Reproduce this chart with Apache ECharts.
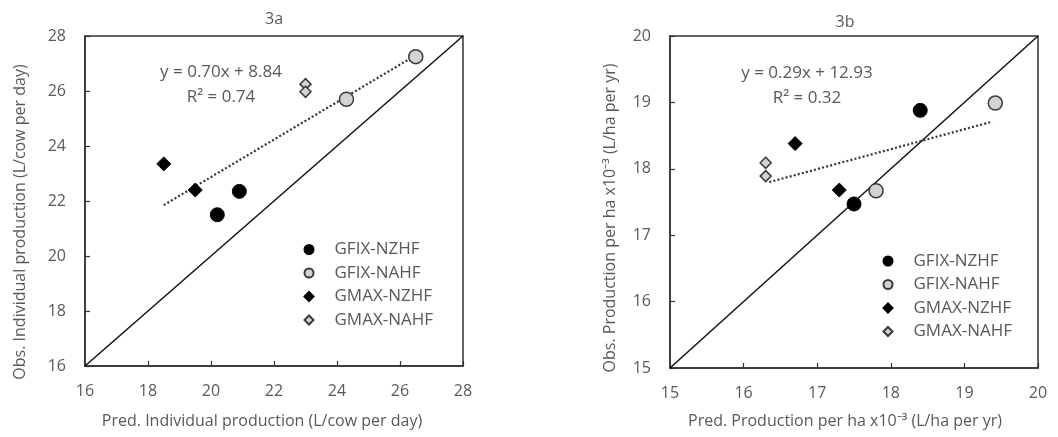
<!DOCTYPE html>
<html><head><meta charset="utf-8">
<script src="https://cdn.jsdelivr.net/npm/echarts@6/dist/echarts.min.js"></script>
<style>html,body{margin:0;padding:0;background:#fff}#c{width:1058px;height:437px}</style>
</head><body><div id="c"></div>
<script>
// ---- data: panel 3a (L/cow per day) ----
const a_GFIX_NZHF = [[20.2, 21.5], [20.9, 22.35]];
const a_GFIX_NAHF = [[24.3, 25.7], [26.5, 27.25]];
const a_GMAX_NZHF = [[18.5, 23.35], [19.5, 22.4]];
const a_GMAX_NAHF = [[23.0, 26.25], [23.0, 25.97]];
const a_trend = [[18.5, 21.85], [26.5, 27.3]];
const a_oneToOne = [[16, 16], [28, 28]];
const a_ticks = [16, 18, 20, 22, 24, 26, 28];
// ---- data: panel 3b (L/ha per yr x10^-3) ----
const b_GFIX_NZHF = [[17.5, 17.47], [18.4, 18.88]];
const b_GFIX_NAHF = [[17.8, 17.67], [19.42, 18.99]];
const b_GMAX_NZHF = [[16.7, 18.38], [17.3, 17.68]];
const b_GMAX_NAHF = [[16.3, 18.09], [16.3, 17.89]];
const b_trend = [[16.35, 17.8], [19.38, 18.71]];
const b_oneToOne = [[15, 15], [20, 20]];
const b_ticks = [15, 16, 17, 18, 19, 20];

const names = ['GFIX-NZHF', 'GFIX-NAHF', 'GMAX-NZHF', 'GMAX-NAHF'];
const eqA = ['y = 0.70x + 8.84', 'R² = 0.74'];
const eqB = ['y = 0.29x + 12.93', 'R² = 0.32'];
const titles = ['3a', '3b'];
const xNames = ['Pred. Individual production (L/cow per day)', 'Pred. Production per ha x10⁻³ (L/ha per yr)'];
const yNames = ['Obs. Individual production (L/cow per day)', 'Obs. Production per ha x10⁻³ (L/ha per yr)'];

const FONT = 'Open Sans';
const TXT = '#595959';
const AX = '#333';

function axis(ticks, gi, isX) {
  return {
    type: 'value', gridIndex: gi, min: ticks[0], max: ticks[ticks.length - 1],
    interval: ticks[1] - ticks[0],
    axisLine: { show: true, onZero: false, lineStyle: { color: AX, width: 1.5 } },
    axisTick: { show: true, inside: true, length: 5, lineStyle: { color: AX, width: 1.2 } },
    axisLabel: { color: TXT, fontFamily: FONT, fontSize: 16, margin: isX ? 17 : 19 },
    splitLine: { show: false }
  };
}
const styles = [
  { symbol: 'circle', size: 14, color: '#000', border: '#000', bw: 1 },
  { symbol: 'circle', size: 14, color: '#d3d3d3', border: '#3a3a3a', bw: 1.5 },
  { symbol: 'diamond', size: 14, color: '#000', border: '#000', bw: 1 },
  { symbol: 'diamond', size: 11, color: '#d3d3d3', border: '#3a3a3a', bw: 1.5 }
];
function scat(name, data, gi, s) {
  return {
    type: 'scatter', name, data, xAxisIndex: gi, yAxisIndex: gi,
    symbol: s.symbol, symbolSize: s.size, z: 5,
    itemStyle: { color: s.color, borderColor: s.border, borderWidth: s.bw, opacity: 1 }
  };
}
function line(data, gi, dotted) {
  return {
    type: 'line', data, xAxisIndex: gi, yAxisIndex: gi, symbol: 'none', silent: true, z: 3,
    lineStyle: dotted ? { color: '#333', width: 2.2, type: [2, 2.2] } : { color: '#111', width: 1.5 }
  };
}
const setsA = [a_GFIX_NZHF, a_GFIX_NAHF, a_GMAX_NZHF, a_GMAX_NAHF];
const setsB = [b_GFIX_NZHF, b_GFIX_NAHF, b_GMAX_NZHF, b_GMAX_NAHF];
const series = [line(a_oneToOne, 0, false), line(a_trend, 0, true), line(b_oneToOne, 1, false), line(b_trend, 1, true)];
names.forEach((n, i) => { series.push(scat(n, setsA[i], 0, styles[i])); });
names.forEach((n, i) => { series.push(scat(n, setsB[i], 1, styles[i])); });

function legend(left, top) {
  return {
    orient: 'vertical', left, top, data: names, itemWidth: 9, itemHeight: 9, itemGap: 6.5,
    selectedMode: false,
    textStyle: { color: TXT, fontFamily: FONT, fontSize: 17, lineHeight: 17, padding: [0, 0, 0, 16] }
  };
}
function txt(x, y, s, size, rot) {
  return {
    type: 'text', x, y, rotation: rot || 0,
    style: { text: s, fill: TXT, font: size + 'px "' + FONT + '"', textAlign: 'center', textVerticalAlign: 'middle' }
  };
}

const chart = echarts.init(document.getElementById('c'), null, { renderer: 'canvas' });
chart.setOption({
  animation: false,
  grid: [
    { left: 85, top: 36, width: 378, height: 330, show: true, borderColor: AX, borderWidth: 1.5, backgroundColor: 'transparent' },
    { left: 670, top: 36, width: 368, height: 332, show: true, borderColor: AX, borderWidth: 1.5, backgroundColor: 'transparent' }
  ],
  xAxis: [axis(a_ticks, 0, true), axis(b_ticks, 1, true)],
  yAxis: [axis(a_ticks, 0, false), axis(b_ticks, 1, false)],
  legend: [legend(298.5, 236), legend(877.5, 247.5)],
  series,
  graphic: [
    txt(274, 19, titles[0], 16), txt(845, 22, titles[1], 16),
    txt(221, 72, eqA[0], 17), txt(221, 97, eqA[1], 17),
    txt(807, 73, eqB[0], 17), txt(807, 98, eqB[1], 17),
    txt(262, 421, xNames[0], 16), txt(845, 421, xNames[1], 16),
    txt(20, 222, yNames[0], 16, Math.PI / 2), txt(610, 218, yNames[1], 16, Math.PI / 2)
  ]
});
</script></body></html>
